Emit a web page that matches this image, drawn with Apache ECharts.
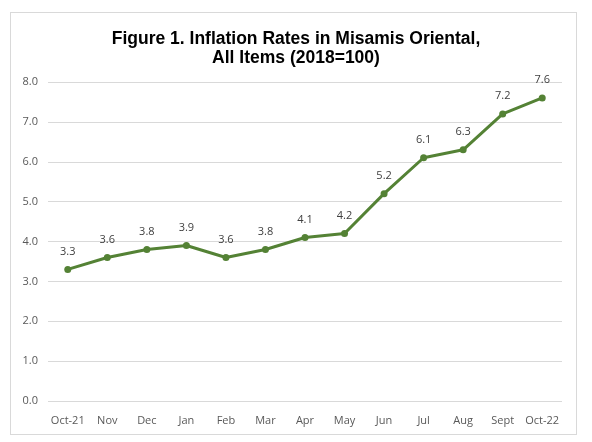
<!DOCTYPE html>
<html><head><meta charset="utf-8">
<script src="https://cdn.jsdelivr.net/npm/echarts@6/dist/echarts.min.js"></script>
<style>html,body{margin:0;padding:0;background:#fff}#c{width:592px;height:442px}
#frame{position:absolute;left:10px;top:12px;width:567px;height:423px;border:1px solid #d9d9d9;box-sizing:border-box;pointer-events:none}</style>
</head><body><div id="c"></div><div id="frame"></div>
<script>
const categories = ["Oct-21","Nov","Dec","Jan","Feb","Mar","Apr","May","Jun","Jul","Aug","Sept","Oct-22"];
const inflation = [3.3,3.6,3.8,3.9,3.6,3.8,4.1,4.2,5.2,6.1,6.3,7.2,7.6];
const titleLines = ["Figure 1. Inflation Rates in Misamis Oriental,","All Items (2018=100)"];
const chart = echarts.init(document.getElementById('c'), null, {renderer:'canvas'});
chart.setOption({
  animation:false,
  backgroundColor:'#ffffff',
  title:{text:titleLines.join('\n'),left:'center',top:25,
    textStyle:{fontFamily:'Liberation Sans',fontWeight:'bold',fontSize:17.5,color:'#000',lineHeight:19}},
  grid:{left:48,right:30,top:82,bottom:41},
  xAxis:{type:'category',data:categories,boundaryGap:true,
    axisLine:{show:false},axisTick:{show:false},
    axisLabel:{interval:0,color:'#595959',fontFamily:'Open Sans',fontSize:11,margin:14}},
  yAxis:{type:'value',min:0,max:8,interval:1,
    axisLine:{show:false},axisTick:{show:false},
    splitLine:{lineStyle:{color:'#d9d9d9',width:1}},
    axisLabel:{color:'#595959',fontFamily:'Open Sans',fontSize:11,margin:10,formatter:v=>v.toFixed(1)}},
  series:[{type:'line',data:inflation,color:'#548235',
    lineStyle:{width:3,color:'#548235'},symbol:'circle',symbolSize:7,
    itemStyle:{color:'#548235'},
    label:{show:true,position:'top',distance:9,color:'#404040',fontFamily:'Open Sans',fontSize:11,formatter:p=>p.value.toFixed(1)}}]
});
</script></body></html>
